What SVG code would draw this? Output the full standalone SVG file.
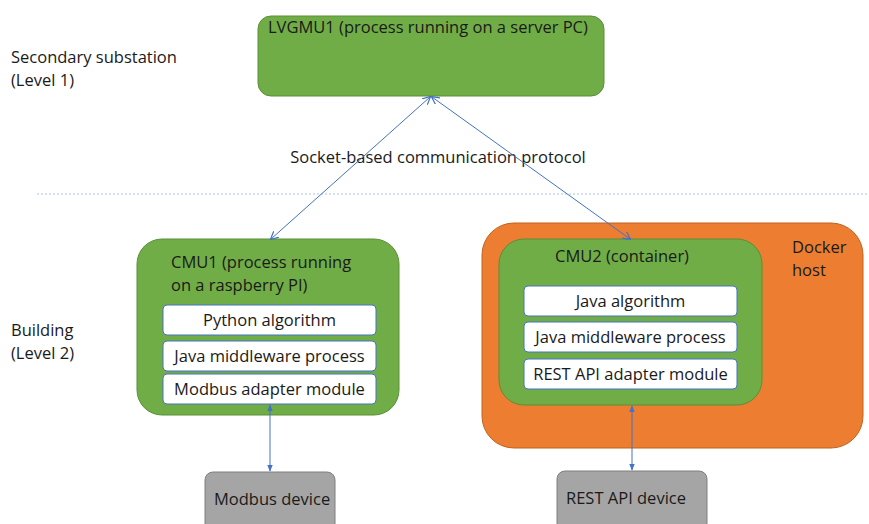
<svg xmlns="http://www.w3.org/2000/svg" width="869" height="524" viewBox="0 0 869 524">
<defs>
<marker id="ah" viewBox="0 0 10 10" refX="9" refY="5" markerWidth="8" markerHeight="8" markerUnits="userSpaceOnUse" orient="auto-start-reverse">
<path d="M0,0 L10,5 L0,10" fill="none" stroke="#4472C4" stroke-width="1.5"/>
</marker>
<marker id="at" viewBox="0 0 10 10" refX="9" refY="5" markerWidth="7" markerHeight="7" markerUnits="userSpaceOnUse" orient="auto-start-reverse">
<path d="M0,1 L10,5 L0,9 Z" fill="#4472C4"/>
</marker>
</defs>
<style>
text{font-family:"Open Sans","Noto Sans","Liberation Sans",sans-serif;font-size:16.5px;fill:#1a1a1a}
.g{fill:#70AD47;stroke:#5A8F39;stroke-width:1}
.o{fill:#ED7D31;stroke:#C0631F;stroke-width:1}
.w{fill:#FFFFFF;stroke:#4472C4;stroke-width:1}
.d{fill:#A5A5A5;stroke:#7F7F7F;stroke-width:1}
.c{text-anchor:middle}
.ln{stroke:#4472C4;stroke-width:1;fill:none}
</style>
<text x="11" y="63">Secondary substation</text>
<text x="11" y="86">(Level 1)</text>
<text x="11" y="336">Building</text>
<text x="11" y="359">(Level 2)</text>
<line x1="37" y1="194" x2="869" y2="194" stroke="#A9C4EB" stroke-width="1" stroke-dasharray="2,2"/>
<text x="438" y="163" class="c">Socket-based communication protocol</text>
<g id="lvgmu1">
<rect x="258" y="16" width="346" height="80" rx="13" class="g"/>
<text x="268" y="33">LVGMU1 (process running on a server PC)</text>
</g>
<g id="cmu1">
<rect x="137" y="239" width="262" height="176" rx="25" class="g"/>
<text x="171" y="268">CMU1 (process running</text>
<text x="171" y="291">on a raspberry PI)</text>
<rect x="163" y="305" width="213" height="30" rx="4" class="w"/>
<text x="269.5" y="326" class="c">Python algorithm</text>
<rect x="163" y="341" width="213" height="30" rx="4" class="w"/>
<text x="269.5" y="362" class="c">Java middleware process</text>
<rect x="163" y="374" width="213" height="30" rx="4" class="w"/>
<text x="269.5" y="395" class="c">Modbus adapter module</text>
</g>
<g id="docker">
<rect x="482" y="223" width="381" height="225" rx="32" class="o"/>
<text x="792" y="253">Docker</text>
<text x="792" y="276">host</text>
</g>
<g id="cmu2">
<rect x="499" y="239" width="263" height="166" rx="25" class="g"/>
<text x="622" y="262" class="c">CMU2 (container)</text>
<rect x="524" y="286" width="213" height="30" rx="4" class="w"/>
<text x="630.5" y="307" class="c">Java algorithm</text>
<rect x="524" y="322" width="213" height="30" rx="4" class="w"/>
<text x="630.5" y="343" class="c">Java middleware process</text>
<rect x="524" y="359" width="213" height="30" rx="4" class="w"/>
<text x="630.5" y="380" class="c">REST API adapter module</text>
</g>
<g id="modbus">
<rect x="205" y="472" width="130" height="60" rx="8" class="d"/>
<text x="214" y="505">Modbus device</text>
</g>
<g id="rest">
<rect x="557" y="471" width="150" height="60" rx="8" class="d"/>
<text x="566" y="504">REST API device</text>
</g>
<g id="connectors">
<line x1="430" y1="97" x2="271" y2="239" class="ln" marker-start="url(#ah)" marker-end="url(#ah)"/>
<line x1="432" y1="97" x2="630" y2="239" class="ln" marker-start="url(#ah)" marker-end="url(#ah)"/>
<line x1="270" y1="405" x2="270" y2="471" class="ln" marker-start="url(#at)" marker-end="url(#at)"/>
<line x1="632" y1="406" x2="632" y2="470" class="ln" marker-start="url(#at)" marker-end="url(#at)"/>
</g>
</svg>
